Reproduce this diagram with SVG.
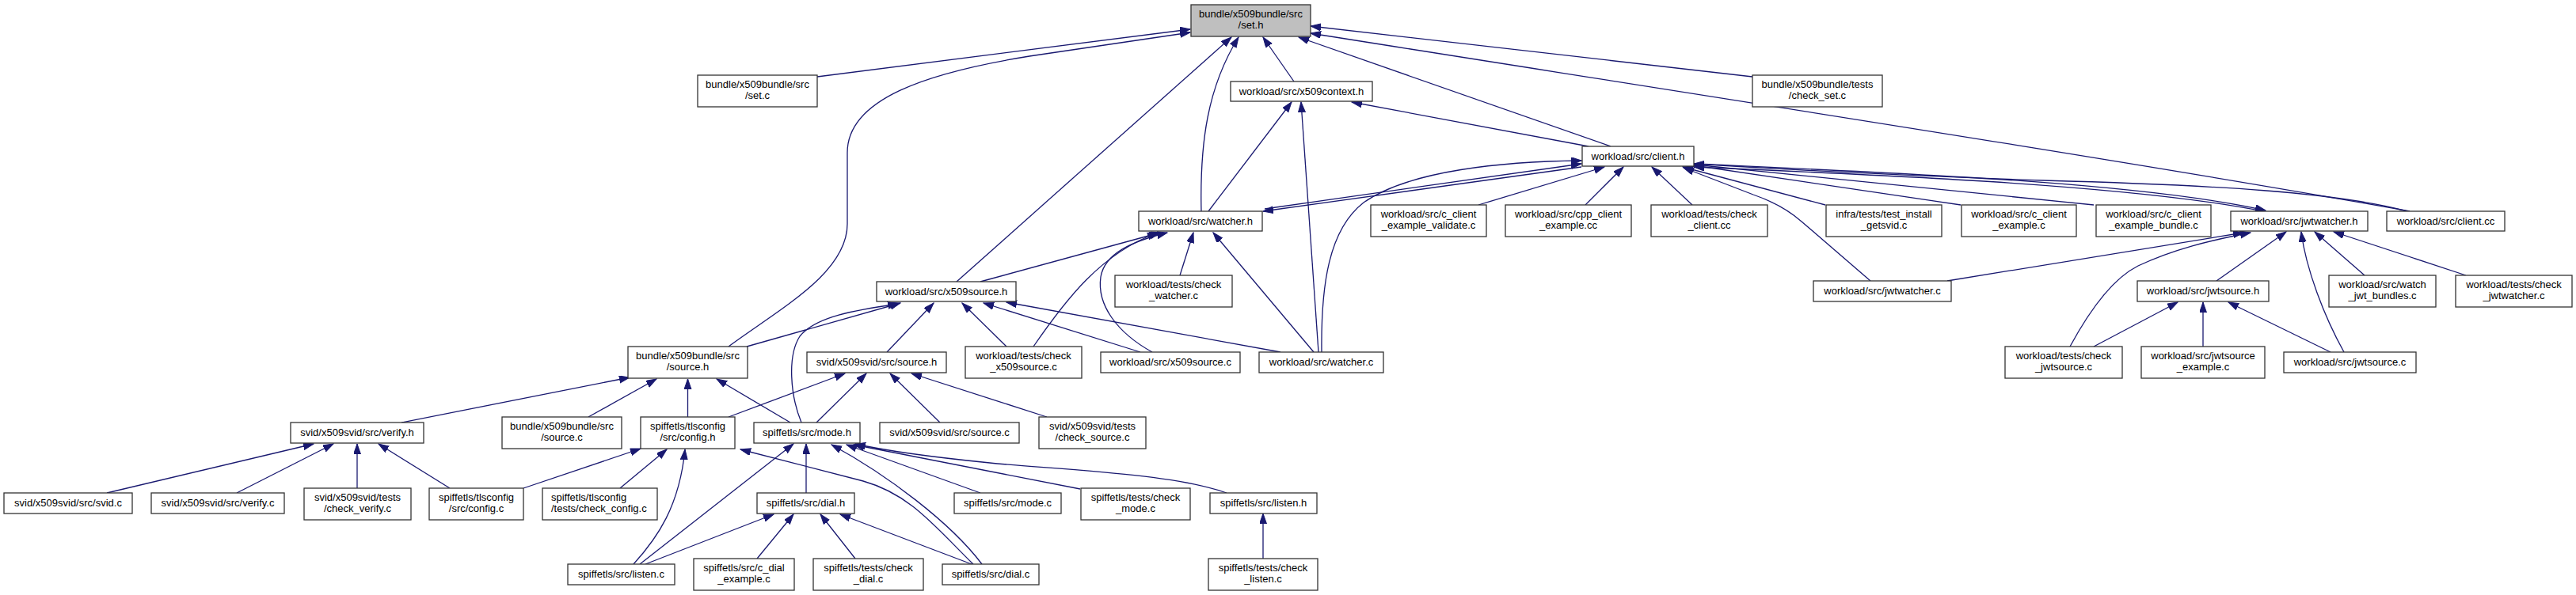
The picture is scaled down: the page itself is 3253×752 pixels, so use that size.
<svg xmlns="http://www.w3.org/2000/svg" width="3253" height="752" viewBox="0 0 3253 752">
<style>
.n rect{fill:#fff;stroke:#333;stroke-width:1.3}
.n text{font-family:"Liberation Sans",Arial,sans-serif;font-size:13px;text-anchor:middle;fill:#000}
.n text.l{text-anchor:start}
#set_h rect{fill:#bfbfbf}
.e path{fill:none;stroke:#191970;stroke-width:1.3;marker-end:url(#a)}
</style>
<defs>
<marker id="a" markerUnits="userSpaceOnUse" markerWidth="14" markerHeight="10" refX="13" refY="4.5" orient="auto"><path d="M0,0 L13,4.5 L0,9 Z" fill="#191970" stroke="#191970" stroke-width="1"/></marker>
</defs>
<rect width="3253" height="752" fill="#fff"/>
<g class="e">
<path d="M1032,97 L1503,37"/>
<path d="M920,438 C985,390 1070,345 1070,283 L1070,193 C1070,125 1170,92 1300,71 L1503,41"/>
<path d="M1208,356 L1555,47"/>
<path d="M1517,267 C1515,180 1525,110 1564,47"/>
<path d="M1634,103 L1595,47"/>
<path d="M2034,185 L1640,47"/>
<path d="M2213,97 L1655,33"/>
<path d="M3043,267 C2700,205 2050,105 1655,42"/>
<path d="M1526,267 L1631,129"/>
<path d="M1665,445 L1643,129"/>
<path d="M2006,185 L1707,129"/>
<path d="M1597,264 L1997,207"/>
<path d="M1997,211 L1595,267"/>
<path d="M1669,445 C1668,360 1678,290 1722,256 C1780,215 1900,204 1997,203"/>
<path d="M1867,259 L2026,211"/>
<path d="M2002,259 L2050,211"/>
<path d="M2137,259 L2086,211"/>
<path d="M2305,259 L2125,211"/>
<path d="M2476,259 L2139,209"/>
<path d="M2644,259 L2139,208"/>
<path d="M2858,267 C2700,235 2400,222 2139,211"/>
<path d="M2139,207 C2400,219 2700,230 2861,266"/>
<path d="M3040,267 C2950,243 2800,234 2580,228 C2400,222 2250,214 2139,207"/>
<path d="M2362,355 L2275,280 C2258,265 2240,255 2214,246 L2126,212"/>
<path d="M2459,355 L2833,294"/>
<path d="M2614,438 C2640,390 2668,352 2700,336 C2745,315 2790,304 2842,294"/>
<path d="M2799,355 L2887,293"/>
<path d="M2960,445 C2935,400 2912,340 2906,293"/>
<path d="M2986,348 L2923,293"/>
<path d="M3114,348 L2947,293"/>
<path d="M2644,438 L2750,382"/>
<path d="M2782,438 L2782,382"/>
<path d="M2943,445 L2814,382"/>
<path d="M1238,356 L1465,294"/>
<path d="M1305,438 C1345,380 1390,320 1462,294"/>
<path d="M1455,445 C1410,420 1385,385 1390,350 C1395,320 1430,305 1474,294"/>
<path d="M1490,348 L1507,294"/>
<path d="M1659,445 L1532,294"/>
<path d="M943,438 L1137,383"/>
<path d="M1012,534 C998,500 994,450 1010,425 C1030,400 1080,392 1134,384"/>
<path d="M1120,445 L1179,383"/>
<path d="M1271,438 L1215,383"/>
<path d="M1440,445 L1242,383"/>
<path d="M1617,445 L1271,382"/>
<path d="M507,534 L795,477"/>
<path d="M743,527 L829,479"/>
<path d="M868.5,527 L868.5,479"/>
<path d="M998,534 L905,479"/>
<path d="M920,527 L1067,472"/>
<path d="M1031,534 L1094,472"/>
<path d="M1187,534 L1124,472"/>
<path d="M1322,527 L1151,472"/>
<path d="M135,623 L396,561"/>
<path d="M299,623 L421,561"/>
<path d="M451,617 L451,561"/>
<path d="M568,617 L478,561"/>
<path d="M661,617 L809,567"/>
<path d="M783,617 L842,568"/>
<path d="M800,713 C830,680 858,640 865,568"/>
<path d="M1229,713 C1180,665 1150,625 1090,608 L935,568"/>
<path d="M808,713 L1002,561"/>
<path d="M1018,623 L1018,561"/>
<path d="M1240,713 C1200,660 1120,600 1050,562"/>
<path d="M1238,623 L1069,562"/>
<path d="M1364,618 L1078,562"/>
<path d="M1549,623 C1480,598 1330,593 1250,585 C1180,578 1120,570 1080,561"/>
<path d="M815,713 L977,650"/>
<path d="M956,706 L1002,650"/>
<path d="M1080,706 L1036,650"/>
<path d="M1227,713 L1061,650"/>
<path d="M1595,706 L1595,649"/>
</g>
<g id="set_h" class="n"><rect x="1504" y="6" width="151" height="40"/><text x="1579.5" y="22">bundle/x509bundle/src</text><text x="1579.5" y="36">/set.h</text></g>
<g id="set_c" class="n"><rect x="881" y="95" width="151" height="40"/><text x="956.5" y="111">bundle/x509bundle/src</text><text x="956.5" y="125">/set.c</text></g>
<g id="x509context_h" class="n"><rect x="1554" y="103" width="179" height="25"/><text x="1643.5" y="120">workload/src/x509context.h</text></g>
<g id="check_set_c" class="n"><rect x="2213" y="95" width="164" height="40"/><text x="2295" y="111">bundle/x509bundle/tests</text><text x="2295" y="125">/check_set.c</text></g>
<g id="client_h" class="n"><rect x="1998" y="185" width="141" height="25"/><text x="2068.5" y="202">workload/src/client.h</text></g>
<g id="watcher_h" class="n"><rect x="1438" y="267" width="156" height="25"/><text x="1516" y="284">workload/src/watcher.h</text></g>
<g id="c_client_example_validate_c" class="n"><rect x="1731" y="259" width="146" height="40"/><text x="1804" y="275">workload/src/c_client</text><text x="1804" y="289">_example_validate.c</text></g>
<g id="cpp_client_example_cc" class="n"><rect x="1901" y="259" width="159" height="40"/><text x="1980.5" y="275">workload/src/cpp_client</text><text x="1980.5" y="289">_example.cc</text></g>
<g id="check_client_cc" class="n"><rect x="2085" y="259" width="147" height="40"/><text x="2158.5" y="275">workload/tests/check</text><text x="2158.5" y="289">_client.cc</text></g>
<g id="test_install_getsvid_c" class="n"><rect x="2306" y="259" width="146" height="40"/><text x="2379" y="275">infra/tests/test_install</text><text x="2379" y="289">_getsvid.c</text></g>
<g id="c_client_example_c" class="n"><rect x="2477" y="259" width="145" height="40"/><text x="2549.5" y="275">workload/src/c_client</text><text x="2549.5" y="289">_example.c</text></g>
<g id="c_client_example_bundle_c" class="n"><rect x="2647" y="259" width="145" height="40"/><text x="2719.5" y="275">workload/src/c_client</text><text x="2719.5" y="289">_example_bundle.c</text></g>
<g id="jwtwatcher_h" class="n"><rect x="2817" y="267" width="173" height="25"/><text x="2903.5" y="284">workload/src/jwtwatcher.h</text></g>
<g id="client_cc" class="n"><rect x="3014" y="267" width="149" height="25"/><text x="3088.5" y="284">workload/src/client.cc</text></g>
<g id="x509source_h" class="n"><rect x="1107" y="356" width="176" height="25"/><text x="1195" y="373">workload/src/x509source.h</text></g>
<g id="check_watcher_c" class="n"><rect x="1408" y="348" width="148" height="40"/><text x="1482" y="364">workload/tests/check</text><text x="1482" y="378">_watcher.c</text></g>
<g id="jwtwatcher_c" class="n"><rect x="2290" y="355" width="174" height="26"/><text x="2377" y="372">workload/src/jwtwatcher.c</text></g>
<g id="jwtsource_h" class="n"><rect x="2699" y="355" width="166" height="26"/><text x="2782" y="372">workload/src/jwtsource.h</text></g>
<g id="watch_jwt_bundles_c" class="n"><rect x="2941" y="348" width="135" height="40"/><text x="3008.5" y="364">workload/src/watch</text><text x="3008.5" y="378">_jwt_bundles.c</text></g>
<g id="check_jwtwatcher_c" class="n"><rect x="3101" y="348" width="147" height="40"/><text x="3174.5" y="364">workload/tests/check</text><text x="3174.5" y="378">_jwtwatcher.c</text></g>
<g id="bundle_source_h" class="n"><rect x="793" y="438" width="151" height="40"/><text x="868.5" y="454">bundle/x509bundle/src</text><text x="868.5" y="468">/source.h</text></g>
<g id="svid_source_h" class="n"><rect x="1019" y="445" width="176" height="26"/><text x="1107" y="462">svid/x509svid/src/source.h</text></g>
<g id="check_x509source_c" class="n"><rect x="1219" y="438" width="147" height="40"/><text x="1292.5" y="454">workload/tests/check</text><text x="1292.5" y="468">_x509source.c</text></g>
<g id="x509source_c" class="n"><rect x="1390" y="445" width="176" height="26"/><text x="1478" y="462">workload/src/x509source.c</text></g>
<g id="watcher_c" class="n"><rect x="1590" y="445" width="157" height="26"/><text x="1668.5" y="462">workload/src/watcher.c</text></g>
<g id="check_jwtsource_c" class="n"><rect x="2532" y="438" width="148" height="40"/><text x="2606" y="454">workload/tests/check</text><text x="2606" y="468">_jwtsource.c</text></g>
<g id="jwtsource_example_c" class="n"><rect x="2704" y="438" width="156" height="40"/><text x="2782" y="454">workload/src/jwtsource</text><text x="2782" y="468">_example.c</text></g>
<g id="jwtsource_c" class="n"><rect x="2884" y="445" width="167" height="26"/><text x="2967.5" y="462">workload/src/jwtsource.c</text></g>
<g id="verify_h" class="n"><rect x="367" y="534" width="168" height="26"/><text x="451" y="551">svid/x509svid/src/verify.h</text></g>
<g id="bundle_source_c" class="n"><rect x="634" y="527" width="151" height="40"/><text x="709.5" y="543">bundle/x509bundle/src</text><text x="709.5" y="557">/source.c</text></g>
<g id="tlsconfig_config_h" class="n"><rect x="809" y="527" width="119" height="40"/><text x="868.5" y="543">spiffetls/tlsconfig</text><text x="868.5" y="557">/src/config.h</text></g>
<g id="mode_h" class="n"><rect x="952" y="534" width="134" height="26"/><text x="1019" y="551">spiffetls/src/mode.h</text></g>
<g id="svid_source_c" class="n"><rect x="1111" y="534" width="176" height="26"/><text x="1199" y="551">svid/x509svid/src/source.c</text></g>
<g id="check_source_c" class="n"><rect x="1312" y="527" width="135" height="40"/><text x="1379.5" y="543">svid/x509svid/tests</text><text x="1379.5" y="557">/check_source.c</text></g>
<g id="svid_c" class="n"><rect x="5" y="623" width="162" height="26"/><text x="86" y="640">svid/x509svid/src/svid.c</text></g>
<g id="verify_c" class="n"><rect x="191" y="623" width="168" height="26"/><text x="275" y="640">svid/x509svid/src/verify.c</text></g>
<g id="check_verify_c" class="n"><rect x="384" y="617" width="135" height="40"/><text x="451.5" y="633">svid/x509svid/tests</text><text x="451.5" y="647">/check_verify.c</text></g>
<g id="tlsconfig_config_c" class="n"><rect x="542" y="617" width="119" height="40"/><text x="601.5" y="633">spiffetls/tlsconfig</text><text x="601.5" y="647">/src/config.c</text></g>
<g id="check_config_c" class="n"><rect x="685" y="617" width="145" height="40"/><text class="l" x="696" y="633">spiffetls/tlsconfig</text><text class="l" x="696" y="647">/tests/check_config.c</text></g>
<g id="dial_h" class="n"><rect x="956" y="623" width="123" height="26"/><text x="1017.5" y="640">spiffetls/src/dial.h</text></g>
<g id="mode_c" class="n"><rect x="1205" y="623" width="135" height="26"/><text x="1272.5" y="640">spiffetls/src/mode.c</text></g>
<g id="check_mode_c" class="n"><rect x="1365" y="617" width="138" height="40"/><text x="1434" y="633">spiffetls/tests/check</text><text x="1434" y="647">_mode.c</text></g>
<g id="listen_h" class="n"><rect x="1528" y="623" width="135" height="26"/><text x="1595.5" y="640">spiffetls/src/listen.h</text></g>
<g id="listen_c" class="n"><rect x="717" y="713" width="135" height="26"/><text x="784.5" y="730">spiffetls/src/listen.c</text></g>
<g id="c_dial_example_c" class="n"><rect x="876" y="706" width="127" height="40"/><text x="939.5" y="722">spiffetls/src/c_dial</text><text x="939.5" y="736">_example.c</text></g>
<g id="check_dial_c" class="n"><rect x="1027" y="706" width="139" height="40"/><text x="1096.5" y="722">spiffetls/tests/check</text><text x="1096.5" y="736">_dial.c</text></g>
<g id="dial_c" class="n"><rect x="1190" y="713" width="122" height="26"/><text x="1251" y="730">spiffetls/src/dial.c</text></g>
<g id="check_listen_c" class="n"><rect x="1526" y="706" width="138" height="40"/><text x="1595" y="722">spiffetls/tests/check</text><text x="1595" y="736">_listen.c</text></g>
</svg>
